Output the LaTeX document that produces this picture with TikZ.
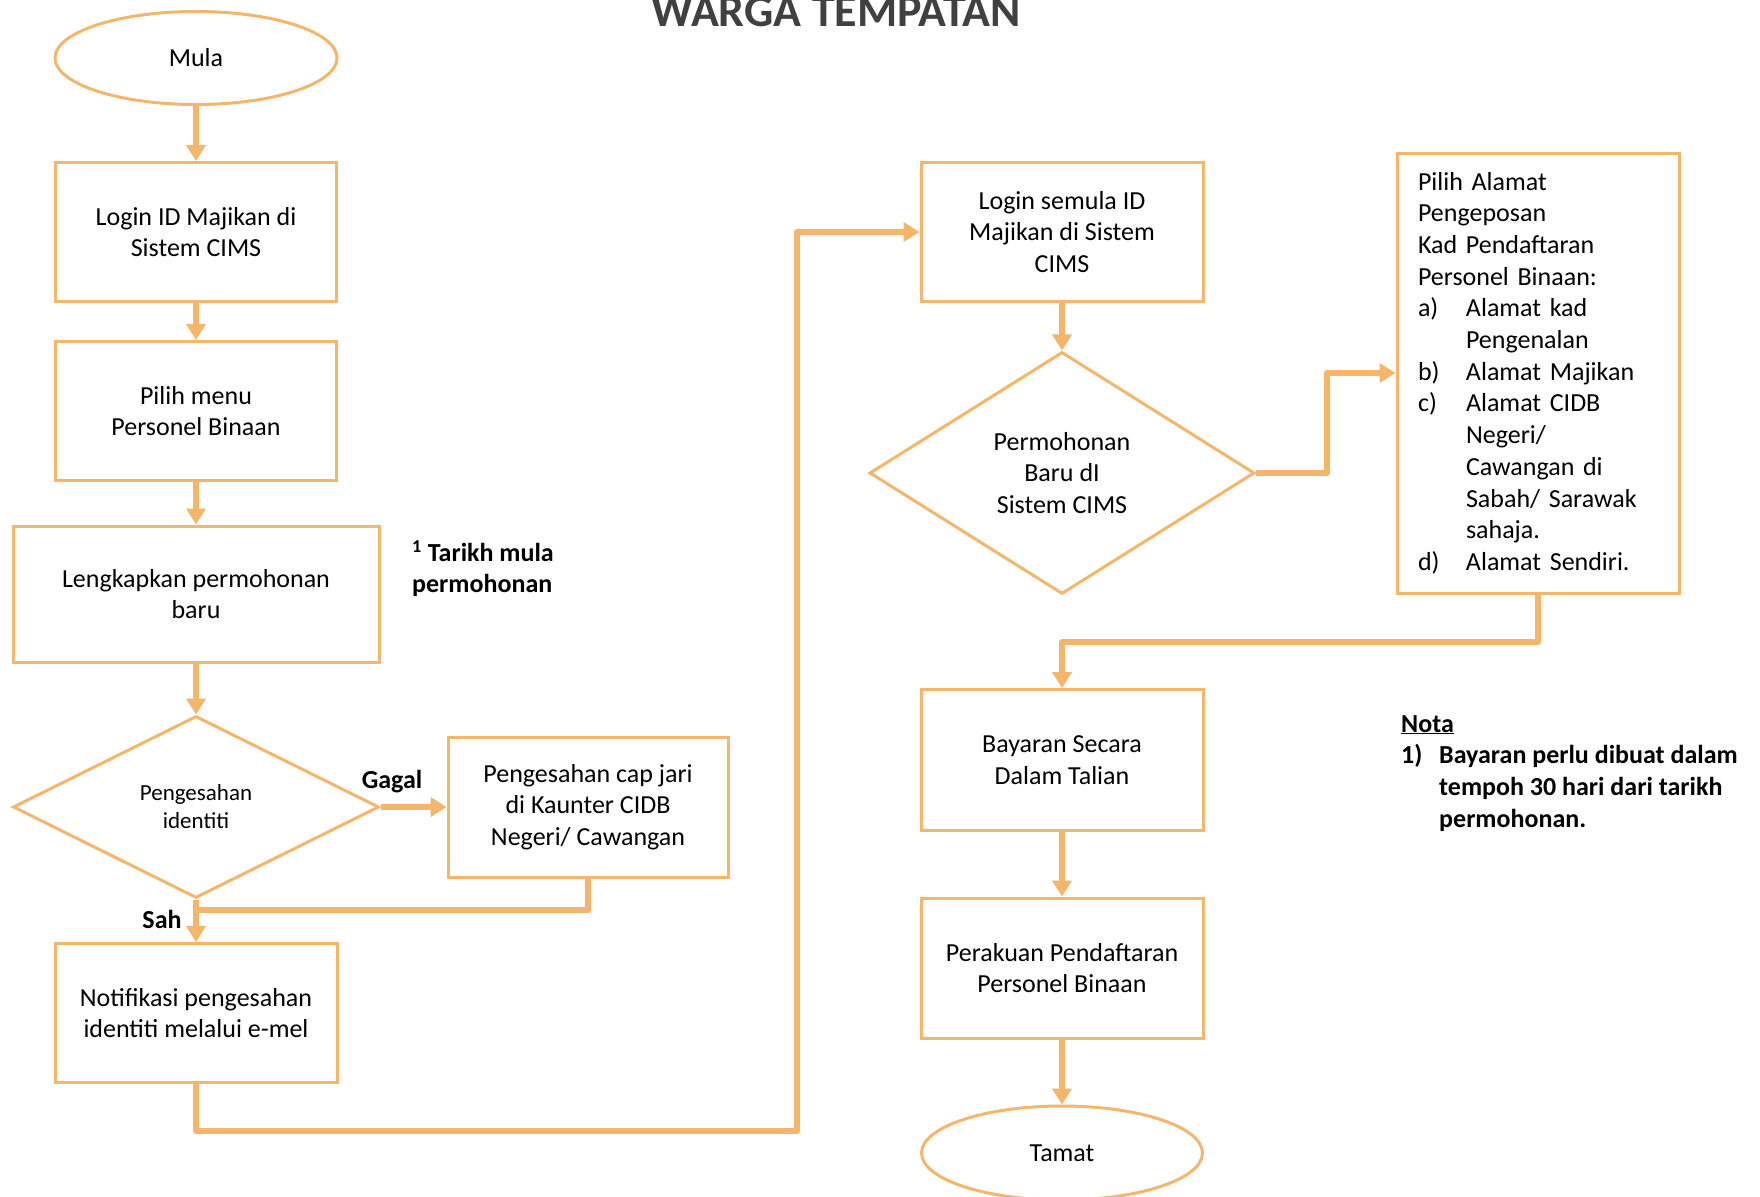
\documentclass[tikz,border=0pt]{standalone}
\usepackage{fontspec}
\setmainfont{Carlito}
\usepackage{xcolor}
\usepackage{tikz}
\usetikzlibrary{shapes, arrows.meta, positioning}
\definecolor{flow}{RGB}{244,182,106}
\definecolor{heading}{RGB}{64,64,64}
\newcommand{\flowfont}{\fontsize{26}{31.7}\selectfont}
\newcommand{\itemlabel}[2]{\makebox[#1][l]{#2}}

\begin{document}
\begin{tikzpicture}
  [
    x=1pt, y=-1pt,
    >={Triangle[width=19pt,length=16pt]},
    Box/.style={rectangle, draw=flow, line width=3pt, minimum width=281pt, minimum height=139pt, align=center, inner sep=0pt, font=\flowfont},
    Oval/.style={ellipse, draw=flow, line width=3pt, minimum width=282pt, minimum height=93pt, inner sep=0pt, font=\flowfont},
    Choice/.style={diamond, draw=flow, line width=3pt, align=center, inner sep=0pt, aspect=1.6, font=\flowfont},
    Note/.style={align=left, inner sep=0pt, font={\flowfont\bfseries}},
    Flow/.style={draw=flow, line width=5.5pt, line join=round}
  ]
  \useasboundingbox (0,0) rectangle (1760,1196);

  % Title
  \node[anchor=base, inner sep=0pt, text=heading, font={\fontsize{46}{55}\selectfont\bfseries}] (t0) at(836, 27) {WARGA TEMPATAN};

  % Nodes
  \node[Oval] (v0) at(196, 58) {Mula};

  \node[Box] (v1) at(196, 232) {Login ID Majikan di\\Sistem CIMS};

  \node[Box] (v2) at(196, 411) {Pilih menu\\Personel Binaan};

  \node[Box, minimum width=366pt, minimum height=136pt] (v3) at(196, 594) {Lengkapkan permohonan\\baru};

  \node[Choice, minimum width=366pt, minimum height=182pt, aspect=2, font={\fontsize{23}{28}\selectfont}] (v4) at(196, 807) {Pengesahan\\identiti};

  \node[Box, minimum width=280pt, minimum height=140pt] (v5) at(588, 807) {Pengesahan cap jari\\di Kaunter CIDB\\Negeri/ Cawangan};

  \node[Box, minimum width=282pt] (v6) at(196, 1013) {Notifikasi pengesahan\\identiti melalui e-mel};

  \node[Box, minimum width=282pt] (v7) at(1062, 232) {Login semula ID\\Majikan di Sistem\\CIMS};

  \node[Choice, minimum width=385pt, minimum height=242pt] (v8) at(1062, 473) {Permohonan\\Baru dI\\Sistem CIMS};

  \node[Box, minimum width=282pt, minimum height=440pt, text width=240pt, align=left] (v9) at(1538, 373)
    {Pilih Alamat\\Pengeposan\\Kad Pendaftaran\\Personel Binaan:\\
     \itemlabel{48pt}{a)}Alamat kad\\\hspace*{48pt}Pengenalan\\
     \itemlabel{48pt}{b)}Alamat Majikan\\
     \itemlabel{48pt}{c)}Alamat CIDB\\\hspace*{48pt}Negeri/\\\hspace*{48pt}Cawangan di\\\hspace*{48pt}Sabah/ Sarawak\\\hspace*{48pt}sahaja.\\
     \itemlabel{48pt}{d)}Alamat Sendiri.};

  \node[Box, minimum width=282pt, minimum height=141pt] (v10) at(1062, 760) {Bayaran Secara\\Dalam Talian};

  \node[Box, minimum width=282pt, minimum height=140pt] (v11) at(1062, 968) {Perakuan Pendaftaran\\Personel Binaan};

  \node[Oval, minimum width=281pt, minimum height=94pt] (v12) at(1062, 1153) {Tamat};

  % Labels
  \node[Note] (l0) at(392, 782) {Gagal};

  \node[Note] (l1) at(162, 919) {Sah};

  \node[Note, anchor=north west] (l2) at(412, 540) {\textsuperscript{1} Tarikh mula\\permohonan};

  \node[Note, anchor=north west] (l3) at(1401, 715)
    {\underline{Nota}\\\itemlabel{38pt}{1)}Bayaran perlu dibuat dalam\\\hspace*{38pt}tempoh 30 hari dari tarikh\\\hspace*{38pt}permohonan.};

  % Corners
  \coordinate (j1) at(196, 910);
  \coordinate (c1) at(797, 1131);
  \coordinate (c2) at(797, 232);
  \coordinate (c3) at(1327, 473);
  \coordinate (c4) at(1538, 642);

  % Lines
  \path [<-, draw, Flow] (v1) -- (v0);
  \path [<-, draw, Flow] (v2) -- (v1);
  \path [<-, draw, Flow] (v3) -- (v2);
  \path [<-, draw, Flow] (v4) -- (v3);
  \path [<-, draw, Flow] (v5) -- (v4);
  \path [<-, draw, Flow] (v6) -- (v4);
  \path [draw, Flow] (j1) -| (v5);
  \path [<-, draw, Flow] (v7) -- (c2) -- (c1) -| (v6);
  \path [<-, draw, Flow] (v8) -- (v7);
  \path [<-, draw, Flow] (v9) -| (c3) -- (v8);
  \path [<-, draw, Flow] (v10) |- (c4) -- (v9);
  \path [<-, draw, Flow] (v11) -- (v10);
  \path [<-, draw, Flow] (v12) -- (v11);

\end{tikzpicture}
\end{document}
